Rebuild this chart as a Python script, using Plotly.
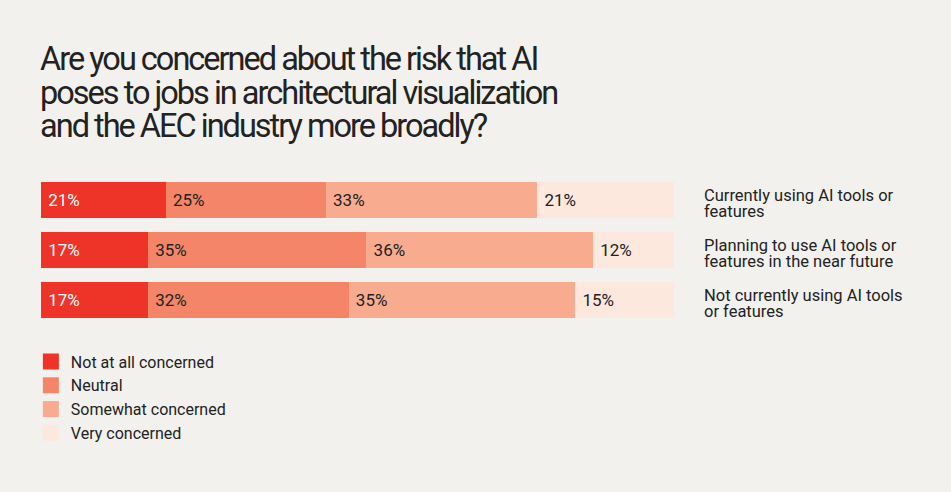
import plotly.graph_objects as go

# ---------------- data ----------------
title_lines = [
    "Are you concerned about the risk that AI",
    "poses to jobs in architectural visualization",
    "and the AEC industry more broadly?",
]
groups = [
    "Currently using AI tools or<br>features",
    "Planning to use AI tools or<br>features in the near future",
    "Not currently using AI tools<br>or features",
]
series_names = ["Not at all concerned", "Neutral", "Somewhat concerned", "Very concerned"]
not_at_all = [19.7, 16.9, 16.9]
neutral = [25.3, 34.5, 31.7]
somewhat = [33.4, 35.8, 35.8]
very = [21.6, 12.8, 15.6]
labels_not_at_all = ["21%", "17%", "17%"]
labels_neutral = ["25%", "35%", "32%"]
labels_somewhat = ["33%", "36%", "35%"]
labels_very = ["21%", "12%", "15%"]

colors = ["#EE3328", "#F48568", "#F9AB8F", "#FDE8DD"]
text_colors = ["#FFFFFF", "#222222", "#222222", "#222222"]
BG = "#F3F1ED"
FONT = "Roboto, Liberation Sans, Arial, sans-serif"

values = [not_at_all, neutral, somewhat, very]
labels = [labels_not_at_all, labels_neutral, labels_somewhat, labels_very]

fig = go.Figure()
for name, vals, labs, col, tcol in zip(series_names, values, labels, colors, text_colors):
    fig.add_trace(go.Bar(
        y=groups, x=vals, orientation="h", name=name,
        marker=dict(color=col, line=dict(width=0)),
        text=[" " + l for l in labs], textposition="inside", insidetextanchor="start",
        textangle=0, textfont=dict(color=tcol, size=17, family=FONT),
        hoverinfo="skip", showlegend=False,
    ))
    # legend entry
    fig.add_trace(go.Scatter(
        x=[None], y=[None], mode="markers", name=name,
        marker=dict(symbol="square", size=18, color=col),
        showlegend=True, hoverinfo="skip",
    ))

annotations = []
for i, line in enumerate(title_lines):
    annotations.append(dict(
        text='<span style="letter-spacing:-2px">' + line + "</span>",
        xref="paper", yref="paper", x=0, y=1, xanchor="left", yanchor="top",
        xshift=-3, yshift=175 - 38 - i * 33.5, showarrow=False,
        font=dict(size=32.5, color="#222222", family=FONT), align="left",
    ))
for g in groups:
    parts = g.split("<br>")
    n = len(parts)
    for j, p in enumerate(parts):
        annotations.append(dict(
            text=p, xref="paper", yref="y", x=1, y=g, xanchor="left", yanchor="middle",
            xshift=28, yshift=-3 - (j - (n - 1) / 2) * 16, showarrow=False,
            font=dict(size=16.5, color="#222222", family=FONT), align="left",
        ))

fig.update_layout(
    barmode="stack", bargap=0.28,
    width=951, height=492,
    margin=dict(l=41, r=277, t=175, b=167),
    paper_bgcolor=BG, plot_bgcolor=BG,
    xaxis=dict(range=[0, 100], visible=False, fixedrange=True),
    yaxis=dict(autorange="reversed", visible=False, fixedrange=True),
    legend=dict(x=-0.016, y=-0.13, xanchor="left", yanchor="top", traceorder="normal",
                font=dict(size=16, color="#222222", family=FONT),
                bgcolor="rgba(0,0,0,0)", itemsizing="trace", tracegroupgap=0),
    annotations=annotations,
    font=dict(family=FONT),
    hovermode=False,
)

fig.write_html(
    "out.html",
    config={"displayModeBar": False, "staticPlot": True},
    post_script="document.body.style.margin='0';document.body.style.background='#F3F1ED';",
)
